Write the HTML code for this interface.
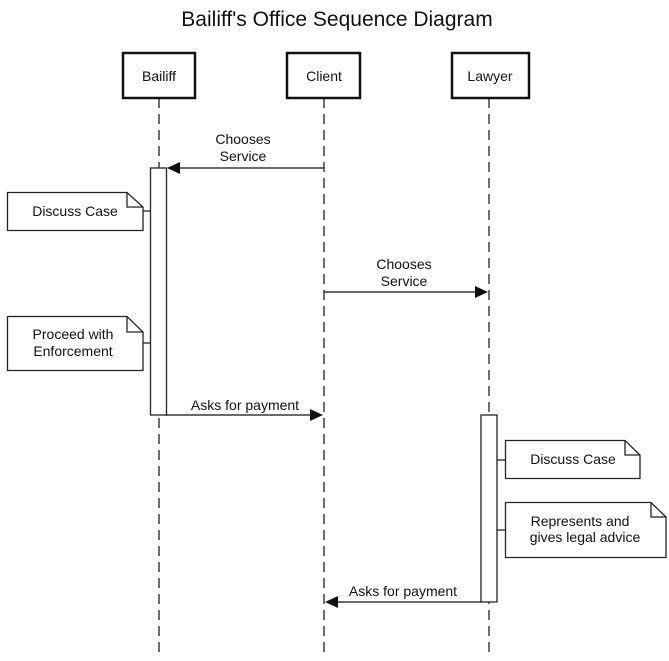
<!DOCTYPE html>
<html><head><meta charset="utf-8"><style>
html,body{margin:0;padding:0;background:#fff;}
svg text{font-family:"Liberation Sans",Arial,sans-serif;font-size:14px;fill:#111;}
</style></head><body>
<svg width="669" height="656" viewBox="0 0 669 656" xmlns="http://www.w3.org/2000/svg">
<text x="337" y="26" text-anchor="middle" style="font-size:21px">Bailiff's Office Sequence Diagram</text>
<g stroke="#222" stroke-width="1.3" stroke-dasharray="10,6" fill="none">
<line x1="159" y1="98" x2="159" y2="652"/>
<line x1="324" y1="98" x2="324" y2="652"/>
<line x1="489" y1="98" x2="489" y2="652"/>
</g>
<g stroke="#111" stroke-width="2.5" fill="#fff">
<rect x="123" y="53" width="72" height="45"/>
<rect x="287" y="53" width="73" height="45"/>
<rect x="452" y="53" width="77" height="45"/>
</g>
<text x="159" y="81" text-anchor="middle">Bailiff</text>
<text x="324" y="81" text-anchor="middle">Client</text>
<text x="490" y="81" text-anchor="middle">Lawyer</text>
<g stroke="#222" stroke-width="1.3" fill="#fff">
<rect x="150.5" y="168" width="16" height="247"/>
<rect x="481" y="415" width="16" height="187"/>
<line x1="143" y1="211" x2="150" y2="211"/>
<line x1="143" y1="343" x2="150" y2="343"/>
<line x1="497" y1="460" x2="505" y2="460"/>
<line x1="497" y1="530" x2="505" y2="530"/>
<path d="M7.5 192.5 H127 L143 207 V230.5 H7.5 Z"/>
<path d="M127 192.5 V207 H143" fill="none"/>
<path d="M7.5 316.5 H127 L143 332 V370.5 H7.5 Z"/>
<path d="M127 316.5 V332 H143" fill="none"/>
<path d="M505.5 440.5 H625 L640 455 V478.5 H505.5 Z"/>
<path d="M625 440.5 V455 H640" fill="none"/>
<path d="M505.5 502.5 H651 L666 517 V557.5 H505.5 Z"/>
<path d="M651 502.5 V517 H666" fill="none"/>
</g>
<text x="75" y="216" text-anchor="middle">Discuss Case</text>
<text x="73" y="339" text-anchor="middle">Proceed with</text>
<text x="73" y="356" text-anchor="middle">Enforcement</text>
<text x="573" y="464" text-anchor="middle">Discuss Case</text>
<text x="580" y="526" text-anchor="middle">Represents and</text>
<text x="585" y="542" text-anchor="middle">gives legal advice</text>
<g stroke="#111" stroke-width="1.3">
<line x1="324" y1="168" x2="178" y2="168"/>
<line x1="324" y1="292" x2="476" y2="292"/>
<line x1="166" y1="415" x2="312" y2="415"/>
<line x1="481" y1="602" x2="336" y2="602"/>
</g>
<g fill="#111">
<path d="M167 168 L180 162 L180 174 Z"/>
<path d="M488 292 L475 286 L475 298 Z"/>
<path d="M323 415 L310 409 L310 421 Z"/>
<path d="M325 602 L338 596 L338 608 Z"/>
</g>
<text x="243" y="144" text-anchor="middle">Chooses</text>
<text x="243" y="161" text-anchor="middle">Service</text>
<text x="404" y="269" text-anchor="middle">Chooses</text>
<text x="404" y="286" text-anchor="middle">Service</text>
<text x="245" y="410" text-anchor="middle">Asks for payment</text>
<text x="403" y="596" text-anchor="middle">Asks for payment</text>
</svg>
</body></html>
